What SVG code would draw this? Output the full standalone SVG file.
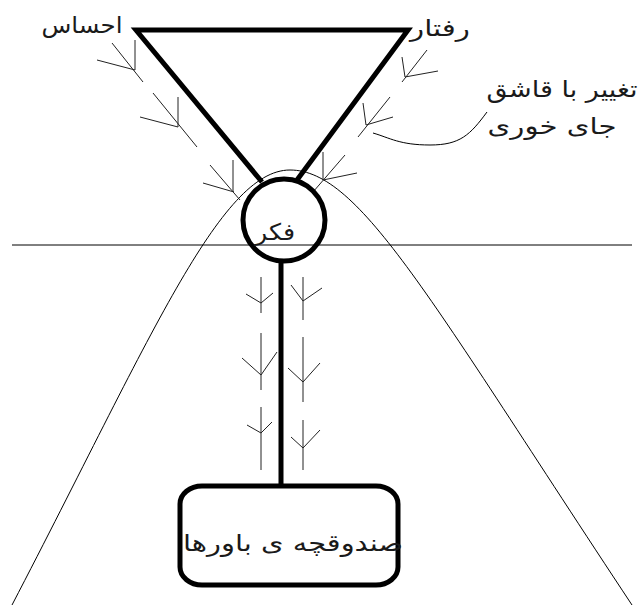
<svg xmlns="http://www.w3.org/2000/svg" width="642" height="612" viewBox="0 0 642 612">
<style>
.thick{fill:none;stroke:#000;stroke-width:5;stroke-linejoin:miter}
.thin{fill:none;stroke:#000;stroke-width:1}
.arr{fill:none;stroke:#222;stroke-width:1}
.lbl{font-family:"DejaVu Sans",sans-serif;font-size:23px;fill:#1a1a1a}
</style>
<rect width="642" height="612" fill="#fff"/>
<g id="guides">
<line class="thin" x1="12" y1="245" x2="632" y2="245"/>
<path class="thin" d="M12,605 C150,340 220,170 290,170 C360,170 430,300 632,605"/>
</g>
<g id="connectors">
<polyline class="thick" points="262,182 136,30 408,30 297,180"/>
<line class="thick" x1="281" y1="262" x2="281" y2="486"/>
<path class="thin" d="M487,112 C470,135 460,145 430,145 C400,145 390,138 373,133"/>
<g id="arrows-left">
<path class="arr" d="M112,43 L143,82 M135,40 L135,70 M97,60 L135,70"/>
<path class="arr" d="M153,93 L197,147 M178,97 L178,127 M140,117 L178,127"/>
<path class="arr" d="M210,165 L240,200 M233,160 L233,192 M203,183 L234,192"/>
</g>
<g id="arrows-right">
<path class="arr" d="M427,50 L402,82 M402,57 L405,77 M438,71 L405,77"/>
<path class="arr" d="M390,97 L358,137 M363,103 L366,125 M393,117 L366,125"/>
<path class="arr" d="M345,155 L313,192 M323,152 L323,180 M357,173 L323,180"/>
</g>
<g id="arrows-stem">
<path class="arr" d="M261,277 L261,313 M246,294 L261,303 L273,293"/>
<path class="arr" d="M261,333 L261,390 M242,358 L261,375 L277,352"/>
<path class="arr" d="M261,407 L261,470 M247,425 L261,433 L272,422"/>
<path class="arr" d="M303,277 L303,320 M291,285 L303,301 L322,288"/>
<path class="arr" d="M303,337 L303,402 M288,368 L303,382 L320,363"/>
<path class="arr" d="M303,420 L303,470 M291,437 L303,448 L320,430"/>
</g>
</g>
<g id="node-fekr">
<circle class="thick" cx="284" cy="220" r="41" fill="#fff"/>
<text class="lbl" x="275" y="240" text-anchor="middle" textLength="40" lengthAdjust="spacingAndGlyphs">فکر</text>
</g>
<g id="node-box">
<rect class="thick" x="180" y="486" width="218" height="99" rx="22" ry="18" fill="#fff"/>
<text class="lbl" x="293" y="551" text-anchor="middle" textLength="220" lengthAdjust="spacingAndGlyphs">صندوقچه ی باورها</text>
</g>
<g id="label-ehsas"><text class="lbl" x="82" y="33" text-anchor="middle" textLength="81" lengthAdjust="spacingAndGlyphs">احساس</text></g>
<g id="label-raftar"><text class="lbl" x="440" y="36" text-anchor="middle" textLength="60" lengthAdjust="spacingAndGlyphs">رفتار</text></g>
<g id="label-note">
<text class="lbl" x="562" y="97" text-anchor="middle" textLength="151" lengthAdjust="spacingAndGlyphs">تغییر با قاشق</text>
<text class="lbl" x="552" y="134" text-anchor="middle" textLength="129" lengthAdjust="spacingAndGlyphs">جای خوری</text>
</g>
</svg>
